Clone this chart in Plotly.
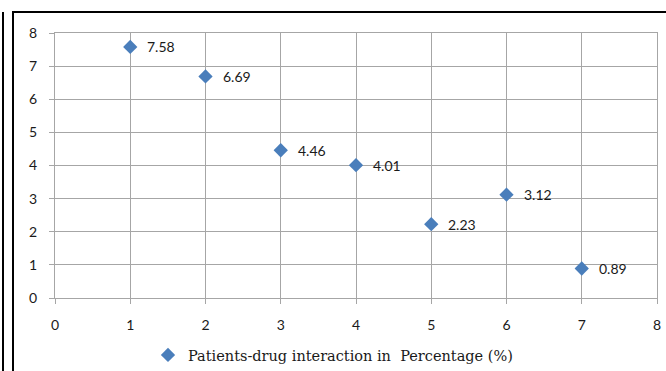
import plotly.graph_objects as go

# Patient-drug interaction data
x_values = [1, 2, 3, 4, 5, 6, 7]
y_values = [7.58, 6.69, 4.46, 4.01, 2.23, 3.12, 0.89]
value_labels = ["7.58", "6.69", "4.46", "4.01", "2.23", "3.12", "0.89"]
x_ticks = [0, 1, 2, 3, 4, 5, 6, 7, 8]
y_ticks = [0, 1, 2, 3, 4, 5, 6, 7, 8]
series_name = "Patients-drug interaction in  Percentage (%)"

W, H = 666, 371
L, R, T, B = 55, 9, 33, 73
pw, ph = W - L - R, H - T - B
label_font = dict(family="Lato, Carlito, sans-serif", size=14, color="#1a1a1a")


def px_x(p):
    return (p - L) / pw


def px_y(p):
    return 1 - (p - T) / ph


fig = go.Figure()
fig.add_trace(go.Scatter(
    x=x_values, y=y_values, mode="markers",
    marker=dict(symbol="diamond", size=11, color="#4a7ebb"),
    name=series_name, showlegend=True, cliponaxis=False,
))

# Value labels beside each point
for xv, yv, lab in zip(x_values, y_values, value_labels):
    fig.add_annotation(x=xv, y=yv, text=lab, showarrow=False,
                       xanchor="left", yanchor="middle", xshift=15,
                       font=label_font)

grid = "#a6a6a6"
common = dict(
    range=[0, 8], ticks="outside", ticklen=5, tickcolor=grid,
    showgrid=True, gridcolor=grid, gridwidth=1, showline=True, linecolor=grid,
    mirror=True, zeroline=False, automargin=False, tickfont=label_font,
)
fig.update_xaxes(tickvals=x_ticks, ticklabelstandoff=9, **common)
fig.update_yaxes(tickvals=y_ticks, ticklabelstandoff=9, **common)

# Outer frame lines
shapes = [
    dict(type="line", xref="paper", yref="paper", x0=px_x(3), x1=px_x(3),
         y0=px_y(12), y1=px_y(380), line=dict(color="black", width=2)),
    dict(type="line", xref="paper", yref="paper", x0=px_x(13), x1=px_x(13),
         y0=px_y(12), y1=px_y(380), line=dict(color="black", width=2)),
    dict(type="line", xref="paper", yref="paper", x0=px_x(12), x1=px_x(680),
         y0=px_y(12), y1=px_y(12), line=dict(color="black", width=2)),
]

fig.update_layout(
    width=W, height=H, margin=dict(l=L, r=R, t=T, b=B, autoexpand=False),
    paper_bgcolor="white", plot_bgcolor="white",
    shapes=shapes,
    legend=dict(orientation="h", x=px_x(148), xanchor="left",
                y=px_y(355), yanchor="middle",
                font=dict(family="'DejaVu Serif', serif",
                          size=14.5, color="#1a1a1a"),
                itemwidth=30, tracegroupgap=0),
)

fig.write_html("out.html")
